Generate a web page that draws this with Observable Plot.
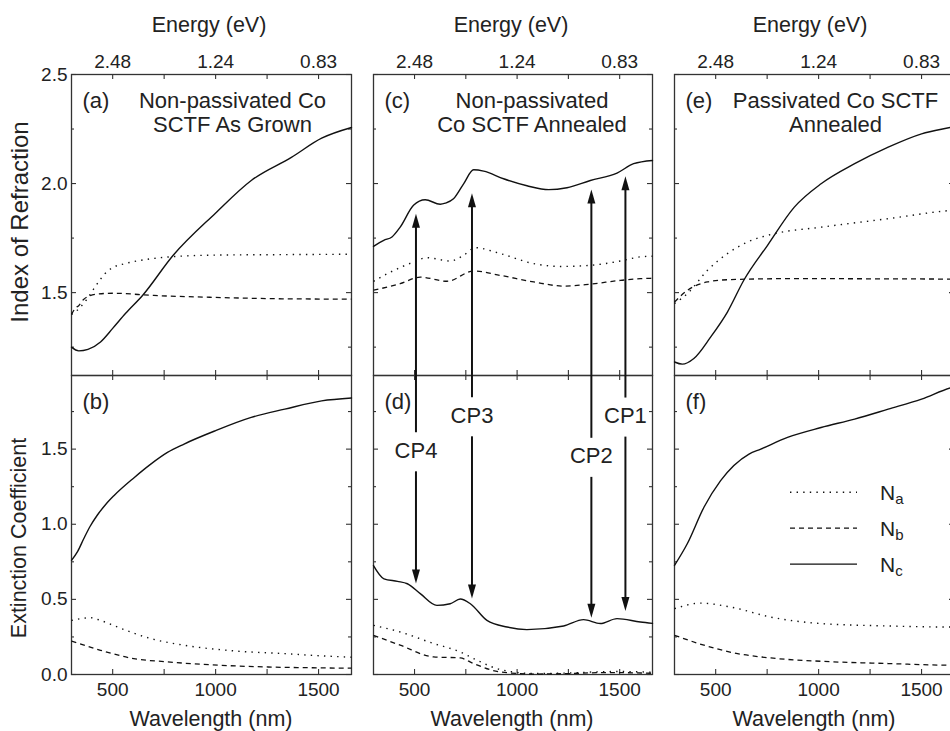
<!DOCTYPE html>
<html><head><meta charset="utf-8">
<script src="https://cdn.jsdelivr.net/npm/d3@7"></script>
<script src="https://cdn.jsdelivr.net/npm/@observablehq/plot@0.6"></script>
<style>
html,body{margin:0;padding:0;background:#fff;}
#fig{position:relative;width:950px;height:731px;overflow:hidden;font-family:'Liberation Sans',Arial,sans-serif;color:#222;background:#fff;}
.lbl{position:absolute;white-space:nowrap;transform:translate(-50%,-50%);font-size:21.5px;line-height:1;}
.vlbl{position:absolute;white-space:nowrap;transform:translate(-50%,-50%) rotate(-90deg);line-height:1;}
</style></head><body><div id="fig"></div>
<script>
// ---------- scales / ticks ----------
const xDomain = [300, 1660];
const nDomain = [1.12, 2.5];
const kDomain = [0, 1.99];
const xTickMarks = [500, 750, 1000, 1250, 1500];
const xTickLabels = [500, 1000, 1500];
const energyTickWl = [500, 1000, 1500];
const energyLabels = ["2.48", "1.24", "0.83"];
const nMajor = [1.5, 2.0, 2.5];
const nMinor = [1.25, 1.75, 2.25];
const kMajor = [0, 0.5, 1.0, 1.5];
const kMinor = [0.25, 0.75, 1.25, 1.75];

// ---------- data: [wavelength nm, value] ----------
// (a) index of refraction, non-passivated as grown
const aNa = [[300,1.40],[340,1.43],[375,1.47],[410,1.52],[441,1.562],[475,1.598],[505,1.617],[560,1.633],[650,1.65],[765,1.663],[1000,1.672],[1300,1.674],[1660,1.676]];
const aNb = [[300,1.40],[320,1.43],[335,1.44],[360,1.47],[420,1.493],[500,1.497],[700,1.487],[1000,1.478],[1300,1.472],[1660,1.47]];
const aNc = [[300,1.25],[335,1.233],[380,1.24],[441,1.274],[500,1.336],[563,1.405],[646,1.488],[793,1.67],[998,1.863],[1173,2.014],[1368,2.12],[1515,2.208],[1660,2.257]];
// (b) extinction, non-passivated as grown
const bNa = [[300,0.36],[393,0.378],[441,0.36],[523,0.316],[685,0.239],[846,0.195],[1090,0.157],[1334,0.139],[1515,0.124],[1660,0.115]];
const bNb = [[300,0.223],[441,0.161],[602,0.106],[767,0.084],[1011,0.062],[1255,0.05],[1515,0.044],[1660,0.042]];
const bNc = [[300,0.76],[330,0.82],[360,0.905],[390,0.985],[425,1.06],[465,1.13],[506,1.19],[604,1.31],[685,1.40],[766,1.478],[847,1.534],[998,1.622],[1173,1.711],[1336,1.766],[1515,1.821],[1660,1.84]];
// (c) index, non-passivated annealed
const cNa = [[300,1.552],[368,1.587],[495,1.64],[560,1.66],[674,1.645],[739,1.671],[796,1.706],[918,1.679],[1081,1.633],[1211,1.62],[1357,1.625],[1504,1.645],[1601,1.664],[1660,1.667]];
const cNb = [[300,1.511],[430,1.541],[528,1.571],[658,1.552],[788,1.599],[918,1.579],[1081,1.549],[1227,1.53],[1357,1.539],[1504,1.556],[1601,1.564],[1660,1.566]];
const cNc = [[300,1.712],[350,1.74],[390,1.755],[430,1.80],[495,1.90],[552,1.926],[625,1.905],[650,1.91],[690,1.93],[740,2.0],[788,2.063],[837,2.057],[934,2.022],[1048,1.99],[1154,1.972],[1243,1.981],[1357,2.014],[1487,2.048],[1568,2.091],[1660,2.106]];
// (d) extinction, non-passivated annealed
const dNa = [[300,0.327],[430,0.283],[593,0.206],[723,0.15],[788,0.106],[918,0.033],[1081,0.007],[1250,0.01],[1400,0.018],[1500,0.02],[1660,0.015]];
const dNb = [[300,0.261],[430,0.195],[593,0.117],[723,0.11],[788,0.073],[918,0.017],[1081,0.003],[1250,0.006],[1400,0.012],[1500,0.012],[1660,0.008]];
const dNc = [[300,0.725],[351,0.637],[417,0.62],[465,0.604],[528,0.538],[609,0.46],[674,0.471],[723,0.502],[772,0.471],[853,0.36],[951,0.316],[1048,0.299],[1227,0.323],[1324,0.365],[1406,0.339],[1487,0.372],[1601,0.349],[1660,0.34]];
// (e) index, passivated annealed
const eNa = [[300,1.45],[362,1.495],[460,1.602],[557,1.679],[655,1.732],[784,1.77],[1012,1.80],[1338,1.839],[1646,1.877],[1660,1.878]];
const eNb = [[300,1.457],[362,1.51],[460,1.549],[557,1.559],[850,1.564],[1660,1.562]];
const eNc = [[300,1.182],[338,1.172],[394,1.198],[476,1.297],[557,1.411],[638,1.559],[752,1.717],[882,1.892],[1012,1.999],[1175,2.091],[1338,2.167],[1500,2.228],[1646,2.259],[1660,2.262]];
// (f) extinction, passivated annealed
const fNa = [[300,0.438],[427,0.475],[573,0.449],[768,0.382],[1012,0.339],[1338,0.323],[1646,0.316],[1660,0.316]];
const fNb = [[300,0.261],[443,0.195],[606,0.139],[768,0.11],[1012,0.088],[1338,0.073],[1646,0.062],[1660,0.062]];
const fNc = [[300,0.726],[362,0.87],[443,1.113],[524,1.29],[662,1.467],[719,1.50],[849,1.578],[1012,1.644],[1175,1.70],[1338,1.766],[1500,1.833],[1646,1.91],[1660,1.915]];

// critical points (arrows in c/d)
const cpLabels = ["CP1", "CP2", "CP3", "CP4"];
const cpWavelength = [1528, 1362, 780, 507];
const cpTipN = [2.034, 1.973, 1.956, 1.862];
const cpTipK = [0.422, 0.378, 0.505, 0.606];
const cpLabelK = [1.72, 1.452, 1.722, 1.489];

// legend
const legendNames = ["a", "b", "c"];
const legendDash = ["1.4,5.2", "5,4", "none"];

// ---------- layout ----------
const frameLeft = [71, 373, 674];
const frameWidth = [280, 279, 280];
const fig = document.getElementById("fig");
const INK = "#111";
const FRAME = "#333";
const styleDash = {na: "1.4,5.2", nb: "5,4", nc: null};

const upHead = {draw(ctx) { ctx.moveTo(0, 0); ctx.lineTo(-4, 14); ctx.lineTo(4, 14); ctx.closePath(); }};
const downHead = {draw(ctx) { ctx.moveTo(0, 0); ctx.lineTo(-4, -14); ctx.lineTo(4, -14); ctx.closePath(); }};
const cpData = cpLabels.map((label, i) => ({label, wl: cpWavelength[i], tipN: cpTipN[i], tipK: cpTipK[i], labK: cpLabelK[i]}));

const panels = [
  {col: 0, row: 0, tag: "(a)", title: "Non-passivated Co\nSCTF As Grown", tdx: 21, na: aNa, nb: aNb, nc: aNc},
  {col: 0, row: 1, tag: "(b)", na: bNa, nb: bNb, nc: bNc},
  {col: 1, row: 0, tag: "(c)", title: "Non-passivated\nCo SCTF Annealed", tdx: 19, na: cNa, nb: cNb, nc: cNc, cpUp: true},
  {col: 1, row: 1, tag: "(d)", na: dNa, nb: dNb, nc: dNc, cpDown: true},
  {col: 2, row: 0, tag: "(e)", title: "Passivated Co SCTF\nAnnealed", tdx: 21, na: eNa, nb: eNb, nc: eNc},
  {col: 2, row: 1, tag: "(f)", na: fNa, nb: fNb, nc: fNc}
];

function makePanel(p) {
  const top = p.row === 0;
  const FL = frameLeft[p.col], FW = frameWidth[p.col];
  const FT = top ? 74 : 375, FH = top ? 301 : 299;
  const ml = p.col === 0 ? 60 : 8, mr = 8, mt = top ? 34 : 8, mb = top ? 8 : 36;
  const yDom = top ? nDomain : kDomain;
  const major = top ? nMajor : kMajor, minor = top ? nMinor : kMinor;
  const marks = [
    Plot.ruleX(xTickMarks, {x: d => d, insetBottom: FH - 5, stroke: FRAME, strokeWidth: 1.1}),
    Plot.ruleX(xTickMarks, {x: d => d, insetTop: FH - 5, stroke: FRAME, strokeWidth: 1.1}),
    Plot.ruleY(major, {y: d => d, insetRight: FW - 5, stroke: FRAME, strokeWidth: 1.1}),
    Plot.ruleY(major, {y: d => d, insetLeft: FW - 5, stroke: FRAME, strokeWidth: 1.1}),
    Plot.ruleY(minor, {y: d => d, insetRight: FW - 3, stroke: FRAME, strokeWidth: 1.1}),
    Plot.ruleY(minor, {y: d => d, insetLeft: FW - 3, stroke: FRAME, strokeWidth: 1.1}),
    Plot.frame({stroke: FRAME, strokeWidth: 1.3}),
    Plot.line(p.na, {x: d => d[0], y: d => d[1], stroke: INK, strokeWidth: 1.4, strokeDasharray: styleDash.na, strokeLinecap: "butt", curve: "monotone-x"}),
    Plot.line(p.nb, {x: d => d[0], y: d => d[1], stroke: INK, strokeWidth: 1.3, strokeDasharray: styleDash.nb, strokeLinecap: "butt", curve: "monotone-x"}),
    Plot.line(p.nc, {x: d => d[0], y: d => d[1], stroke: INK, strokeWidth: 1.4, curve: "monotone-x"}),
    Plot.text([p.tag], {frameAnchor: "top-left", textAnchor: "start", lineAnchor: "middle", dx: 11, dy: 26, fontSize: 22, fill: "#222"})
  ];
  if (p.title) marks.push(Plot.text([p.title], {frameAnchor: "top", dx: p.tdx, dy: 38, lineAnchor: "middle", lineHeight: 1.09, fontSize: 22, fill: "#222"}));
  if (p.col === 0) marks.push(Plot.axisY({anchor: "left", ticks: major, tickFormat: d3.format(".1f"), tickSize: 0, tickPadding: 4, label: null, fontSize: 19, fill: "#222"}));
  if (top) {
    const eMap = new Map(energyTickWl.map((w, i) => [w, energyLabels[i]]));
    marks.push(Plot.axisX({anchor: "top", ticks: energyTickWl, tickFormat: d => eMap.get(d), tickSize: 0, tickPadding: 7, label: null, fontSize: 19, fill: "#222"}));
  } else {
    marks.push(Plot.axisX({anchor: "bottom", ticks: xTickLabels, tickFormat: d3.format("d"), tickSize: 0, tickPadding: 8, label: null, fontSize: 19, fill: "#222"}));
  }
  if (p.cpUp) {
    marks.push(Plot.ruleX(cpData, {x: "wl", y1: () => nDomain[0], y2: d => d.tipN - 0.04, stroke: INK, strokeWidth: 2}));
    marks.push(Plot.dot(cpData, {x: "wl", y: "tipN", symbol: upHead, fill: INK, stroke: "none", r: 5}));
  }
  if (p.cpDown) {
    marks.push(Plot.ruleX(cpData, {x: "wl", y1: d => d.labK + 0.12, y2: () => kDomain[1], stroke: INK, strokeWidth: 2}));
    marks.push(Plot.ruleX(cpData, {x: "wl", y1: d => d.tipK + 0.05, y2: d => d.labK - 0.14, stroke: INK, strokeWidth: 2}));
    marks.push(Plot.dot(cpData, {x: "wl", y: "tipK", symbol: downHead, fill: INK, stroke: "none", r: 5}));
    marks.push(Plot.text(cpData, {x: "wl", y: "labK", text: "label", fontSize: 22, fill: "#222"}));
  }
  const svg = Plot.plot({
    width: ml + FW + mr, height: mt + FH + mb,
    marginLeft: ml, marginRight: mr, marginTop: mt, marginBottom: mb,
    x: {domain: xDomain, axis: null},
    y: {domain: yDom, axis: null},
    style: {fontFamily: "'Liberation Sans', Arial, sans-serif", fontSize: "19px", color: "#222", background: "transparent", overflow: "visible"},
    marks
  });
  svg.style.position = "absolute";
  svg.style.left = (FL - ml) + "px";
  svg.style.top = (FT - mt) + "px";
  fig.appendChild(svg);
}
panels.forEach(makePanel);

// axis titles
function addLabel(text, x, y, cls, size) {
  const d = document.createElement("div");
  d.className = cls; d.textContent = text;
  d.style.left = x + "px"; d.style.top = y + "px";
  if (size) d.style.fontSize = size + "px";
  fig.appendChild(d);
}
[209, 511, 810].forEach(x => addLabel("Energy (eV)", x, 26, "lbl"));
[211, 512, 814].forEach(x => addLabel("Wavelength (nm)", x, 720, "lbl"));
addLabel("Index of Refraction", 20, 222, "vlbl", 24);
addLabel("Extinction Coefficient", 20, 538, "vlbl", 21.5);

// legend (panel f)
const lg = d3.select(fig).append("svg").attr("width", 140).attr("height", 110)
  .style("position", "absolute").style("left", "780px").style("top", "470px");
legendNames.forEach((n, i) => {
  const y = 22.3 + i * 35.9;
  lg.append("line").attr("x1", 10).attr("x2", 77).attr("y1", y).attr("y2", y)
    .attr("stroke", INK).attr("stroke-width", i === 0 ? 1.4 : 1.3).attr("stroke-dasharray", legendDash[i]);
  const t = lg.append("text").attr("x", 100).attr("y", y + 7.5).attr("fill", "#222")
    .style("font-family", "'Liberation Sans', Arial, sans-serif").style("font-size", "21px").text("N");
  t.append("tspan").attr("dy", 4).style("font-size", "15px").text(n);
});
</script></body></html>
